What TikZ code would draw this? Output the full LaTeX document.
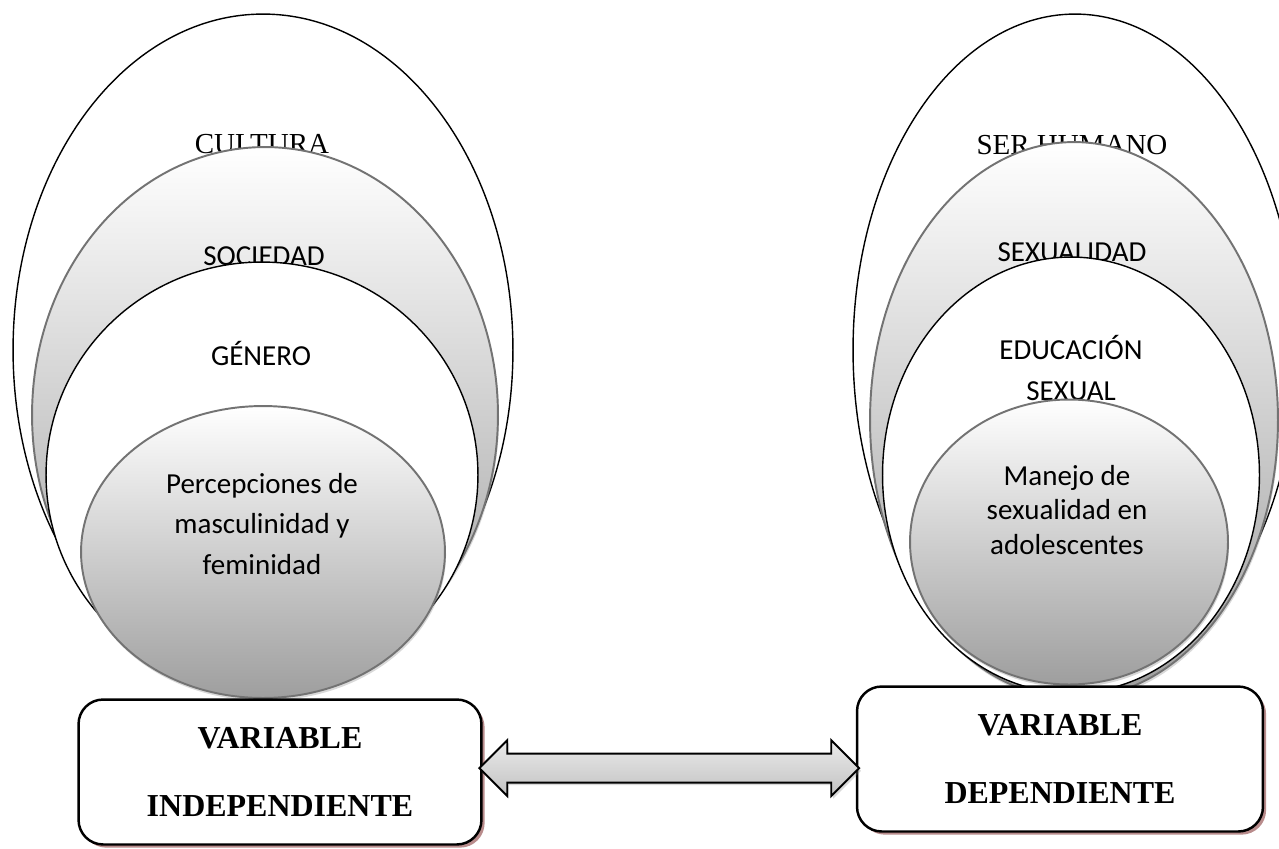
\documentclass[tikz,border=0pt]{standalone}
\usepackage{fontspec}
\setmainfont{Carlito}
\newfontfamily\timesfont{Liberation Serif}
\usetikzlibrary{positioning, shapes.geometric, shapes.arrows, shadows}

\definecolor{boxshadow}{RGB}{185,140,140}

\begin{document}
\begin{tikzpicture}[x=0.02cm, y=-0.02cm]
    \tikzstyle{ringplain} = [ellipse, draw=black, line width=0.8pt, fill=white, inner sep=0pt]
    \tikzstyle{ringshade} = [ellipse, draw=black!55, line width=1.1pt, top color=white, bottom color=black!38, inner sep=0pt, drop shadow={shadow xshift=0.6pt, shadow yshift=-1.6pt, opacity=0.3}]
    \tikzstyle{ringtext} = [font=\fontsize{16.5}{23}\selectfont, align=center, inner sep=0pt]
    \tikzstyle{ringtitle} = [font=\timesfont\fontsize{16.5}{20}\selectfont, inner sep=0pt]
    \tikzstyle{varbox} = [rectangle, rounded corners=14pt, draw=black, line width=1.4pt, fill=white, minimum width=8.06cm, minimum height=2.9cm, align=center, font=\timesfont\bfseries\fontsize{18.2}{39}\selectfont, drop shadow={shadow xshift=1.8pt, shadow yshift=-1.8pt, fill=boxshadow, opacity=1}]

    \useasboundingbox (0,0) rectangle (1279,849);

    % left side
    \node (cultura) [ringplain, minimum width=10cm, minimum height=13.44cm] at (263,350) {};
    \node (t-cultura) [ringtitle] at (262,144) {CULTURA};
    \node (sociedad) [ringshade, minimum width=9.32cm, minimum height=10.72cm] at (265,415) {};
    \node (t-sociedad) [ringtext] at (264,256) {SOCIEDAD};
    \node (genero) [ringplain, minimum width=8.64cm, minimum height=8.52cm] at (262,475) {};
    \node (t-genero) [ringtext] at (261,353) {GÉNERO};
    \node (percep) [ringshade, minimum width=7.28cm, minimum height=5.84cm] at (263,552) {};
    \node (t-percep) [ringtext, font=\fontsize{16.5}{22.8}\selectfont] at (262,524) {Percepciones de\\masculinidad y\\feminidad};

    % right side
    \node (humano) [ringplain, minimum width=8.88cm, minimum height=13.44cm] at (1075,350) {};
    \node (t-humano) [ringtitle] at (1072,145) {SER HUMANO};
    \node (sexualidad) [ringshade, minimum width=8.16cm, minimum height=11.12cm] at (1074,420) {};
    \node (t-sexualidad) [ringtext] at (1072,252) {SEXUALIDAD};
    \node (educacion) [ringplain, minimum width=7.54cm, minimum height=8.72cm] at (1071,475) {};
    \node (t-educacion) [ringtext, font=\fontsize{16.5}{23.9}\selectfont] at (1071,368) {EDUCACIÓN\\SEXUAL};
    \node (manejo) [ringshade, minimum width=6.36cm, minimum height=5.7cm] at (1069,542) {};
    \node (t-manejo) [ringtext, font=\fontsize{16.5}{19.9}\selectfont] at (1067,510) {Manejo de\\sexualidad en\\adolescentes};

    % variables
    \node (indep) [varbox] at (280,772) {VARIABLE\\INDEPENDIENTE};
    \node (dep) [varbox, minimum width=8.12cm] at (1060,759) {VARIABLE\\DEPENDIENTE};

    \path (indep.east) -- (dep.west) node (link) [midway, yshift=-1.5pt, double arrow, draw=black, line width=1.1pt, top color=black!8, bottom color=black!24, minimum height=7.6cm, double arrow head extend=0.27cm, inner sep=0pt, drop shadow={shadow xshift=1pt, shadow yshift=-1.5pt, opacity=0.3}] {\rule{0pt}{0.54cm}};
\end{tikzpicture}
\end{document}
